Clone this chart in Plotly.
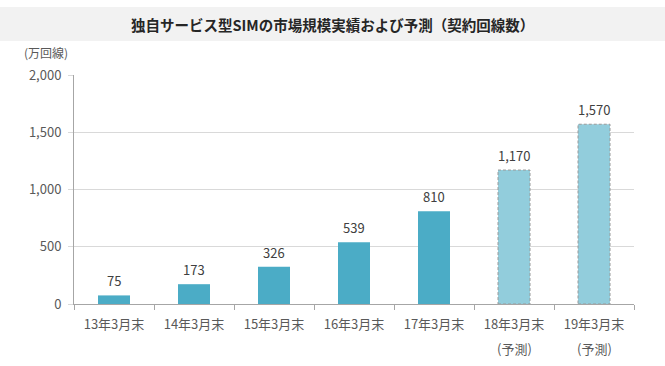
import plotly.graph_objects as go

categories = ["13年3月末", "14年3月末", "15年3月末", "16年3月末", "17年3月末", "18年3月末", "19年3月末"]
values = [75, 173, 326, 539, 810, 1170, 1570]
is_forecast = [False, False, False, False, False, True, True]
forecast_note = "(予測)"
title_text = "独自サービス型SIMの市場規模実績および予測（契約回線数）"
unit_text = "(万回線)"
y_ticks = [0, 500, 1000, 1500, 2000]

W, H = 665, 366
ML, MR, MT, MB = 74, 31, 75, 62
PW, PH = W - ML - MR, H - MT - MB

FONT = "Noto Sans CJK JP, Meiryo, sans-serif"
solid = "#4bacc6"
light = "#92cddc"

colors = [light if f else solid for f in is_forecast]

fig = go.Figure()
fig.add_trace(go.Bar(
    x=categories, y=values, width=0.4,
    marker=dict(color=colors, line=dict(width=0)),
    hoverinfo="skip",
))

# data labels
for c, v in zip(categories, values):
    fig.add_annotation(x=c, y=v, text=f"{v:,}", showarrow=False,
                       yanchor="bottom", yshift=3,
                       font=dict(family=FONT, size=13, color="#404040"))

# dashed outline and note for forecast bars
for i, (c, v, f) in enumerate(zip(categories, values, is_forecast)):
    if f:
        fig.add_shape(type="rect", xref="x", yref="y",
                      x0=i - 0.2, x1=i + 0.2, y0=0, y1=v,
                      line=dict(color="#9a9a9a", width=1, dash="3px,2px"),
                      fillcolor="rgba(0,0,0,0)", layer="above")
        fig.add_annotation(x=c, xref="x", yref="paper", y=0,
                           yshift=-(348 - (MT + PH)), text=forecast_note,
                           showarrow=False, xanchor="center", yanchor="middle",
                           font=dict(family=FONT, size=13, color="#595959"))

# title band
fig.add_shape(type="rect", xref="paper", yref="paper",
              x0=-ML / PW, x1=1 + MR / PW,
              y0=1 + (MT - 41) / PH, y1=1 + (MT - 7) / PH,
              line=dict(width=0), fillcolor="#f2f2f2", layer="below")
fig.add_annotation(xref="paper", yref="paper",
                   x=(332 - ML) / PW, y=1 + (MT - 24) / PH,
                   text=f"<b>{title_text}</b>", showarrow=False,
                   xanchor="center", yanchor="middle",
                   font=dict(family=FONT, size=14.5, color="#262626"))
fig.add_annotation(xref="paper", yref="paper",
                   x=(46 - ML) / PW, y=1 + (MT - 52) / PH,
                   text=unit_text, showarrow=False,
                   xanchor="center", yanchor="middle",
                   font=dict(family=FONT, size=12, color="#595959"))

fig.update_layout(
    width=W, height=H,
    margin=dict(l=ML, r=MR, t=MT, b=MB, pad=0, autoexpand=False),
    paper_bgcolor="white", plot_bgcolor="white",
    showlegend=False,
    bargap=0.6,
    font=dict(family=FONT, size=13, color="#595959"),
)
fig.update_xaxes(
    type="category", showline=True, linecolor="#a6a6a6", linewidth=1,
    ticks="outside", tickson="boundaries", ticklen=5, tickcolor="#a6a6a6",
    ticklabelstandoff=8, automargin=False,
    showgrid=False, tickfont=dict(family=FONT, size=13, color="#595959"),
)
fig.update_yaxes(
    range=[0, 2000], tickvals=y_ticks, tickformat=",",
    showline=True, linecolor="#a6a6a6", linewidth=1,
    ticks="outside", ticklen=5, tickcolor="#d9d9d9",
    ticklabelstandoff=4,
    showgrid=True, gridcolor="#d9d9d9", gridwidth=1,
    zeroline=False, automargin=False,
    tickfont=dict(family=FONT, size=13, color="#595959"),
)

fig.write_html("out.html", config={"displayModeBar": False, "staticPlot": True})
with open("out.html", encoding="utf-8") as fh:
    html = fh.read()
html = html.replace("<body>", '<body style="margin:0;padding:0;overflow:hidden">', 1)
with open("out.html", "w", encoding="utf-8") as fh:
    fh.write(html)
